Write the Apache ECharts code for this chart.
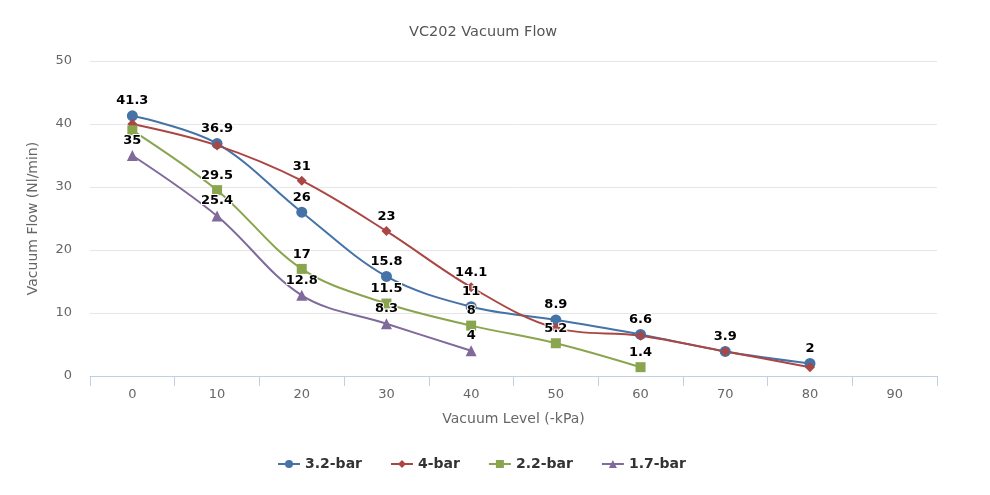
<!DOCTYPE html>
<html>
<head>
<meta charset="utf-8">
<script src="https://cdn.jsdelivr.net/npm/echarts@6/dist/echarts.min.js"></script>
<style>
html,body{margin:0;padding:0;background:#fff;}
#chart{width:990px;height:495px;}
</style>
</head>
<body>
<div id="chart"></div>
<script>
var categories = ['0','10','20','30','40','50','60','70','80','90'];
var bar32 = [41.3, 36.9, 26, 15.8, 11, 8.9, 6.6, 3.9, 2, null];
var bar4  = [40, 36.6, 31, 23, 14.1, 7.6, 6.4, 3.9, 1.4, null];
var bar22 = [39, 29.5, 17, 11.5, 8, 5.2, 1.4, null, null, null];
var bar17 = [35, 25.4, 12.8, 8.3, 4, null, null, null, null, null];
var yTicks = [0, 10, 20, 30, 40, 50];

var FONT = 'DejaVu Sans';
function mkLabel(hidden){
  return {
    show: true, position: 'top', distance: 3,
    fontFamily: FONT, fontSize: 13, fontWeight: 'bold', color: '#000',
    textBorderColor: '#fff', textBorderWidth: 2,
    formatter: function(p){ return hidden.indexOf(p.dataIndex) >= 0 ? '' : String(p.value); }
  };
}
function mkSeries(name, data, color, symbol, size, hidden){
  return {
    name: name, type: 'line', data: data, smooth: 0.35,
    symbol: symbol, symbolSize: size, showSymbol: true,
    itemStyle: {color: color},
    lineStyle: {color: color, width: 2},
    label: mkLabel(hidden),
    emphasis: {disabled: true},
    connectNulls: false
  };
}

var chart = echarts.init(document.getElementById('chart'), null, {renderer: 'canvas'});
chart.setOption({
  animation: false,
  backgroundColor: '#fff',
  title: {
    text: 'VC202 Vacuum Flow', left: 404, top: 20,
    textStyle: {fontFamily: FONT, fontSize: 14.5, fontWeight: 'normal', color: '#555'}
  },
  legend: {
    bottom: 19, left: 272, itemGap: 28, itemWidth: 22, itemHeight: 10,
    textStyle: {fontFamily: FONT, fontSize: 14, fontWeight: 'bold', color: '#333'},
    data: ['3.2-bar', '4-bar', '2.2-bar', '1.7-bar']
  },
  grid: {left: 90, right: 53, top: 61, bottom: 119, containLabel: false},
  xAxis: {
    type: 'category', data: categories, boundaryGap: true,
    name: 'Vacuum Level (-kPa)', nameLocation: 'middle', nameGap: 36,
    nameTextStyle: {fontFamily: FONT, fontSize: 14, color: '#666'},
    axisLine: {show: true, lineStyle: {color: '#c0d0e0', width: 1}},
    axisTick: {show: true, length: 10, lineStyle: {color: '#c0d0e0'}},
    axisLabel: {fontFamily: FONT, fontSize: 13, color: '#666', margin: 12},
    splitLine: {show: false}
  },
  yAxis: {
    type: 'value', min: yTicks[0], max: yTicks[yTicks.length-1], interval: 10,
    name: 'Vacuum Flow (Nl/min)', nameLocation: 'middle', nameGap: 50, nameRotate: 90,
    nameTextStyle: {fontFamily: FONT, fontSize: 14, color: '#666'},
    axisLine: {show: false}, axisTick: {show: false},
    axisLabel: {fontFamily: FONT, fontSize: 13, color: '#666', margin: 18},
    splitLine: {lineStyle: {color: '#e6e6e6', width: 1}}
  },
  series: [
    mkSeries('3.2-bar', bar32, '#4572A7', 'circle', 11, []),
    mkSeries('4-bar', bar4, '#AA4643', 'diamond', 10, [0, 1, 5, 6, 7, 8]),
    mkSeries('2.2-bar', bar22, '#89A54E', 'rect', 10, [0]),
    mkSeries('1.7-bar', bar17, '#80699B', 'triangle', 11, [])
  ]
});
</script>
</body>
</html>
